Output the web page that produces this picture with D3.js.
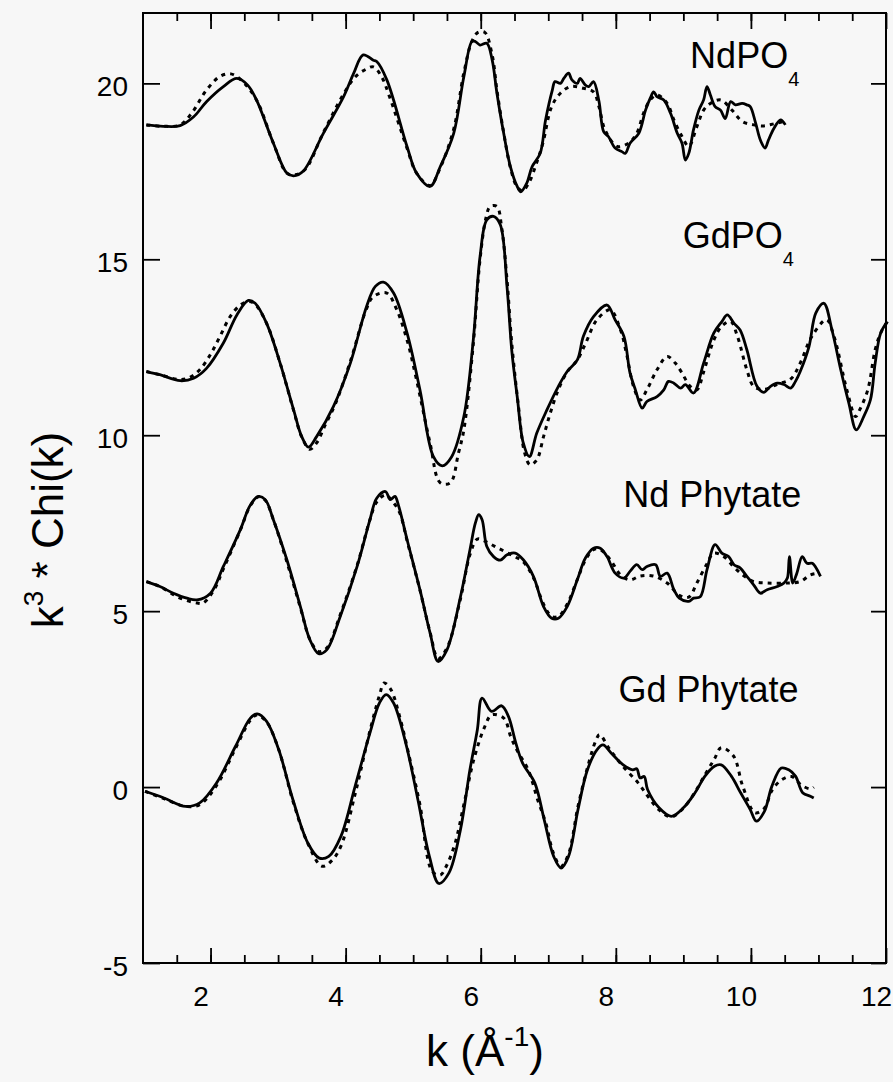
<!DOCTYPE html>
<html>
<head>
  <meta charset="utf-8">
  <script src="https://d3js.org/d3.v7.min.js"></script>
  <style>
  body {
    margin: 0;
    background: #f7f7f7;
  }
  svg {
    display: block;
    font-family: "Liberation Sans", Arial, Helvetica, sans-serif;
  }
  .tick line {
    stroke: #000;
    stroke-width: 1.8px;
  }
  .tick text {
    fill: #000;
    font-size: 28px;
  }
  .exp {
    fill: none;
    stroke: #000;
    stroke-width: 2.8px;
    stroke-linejoin: round;
  }
  .fit {
    fill: none;
    stroke: #000;
    stroke-width: 3px;
    stroke-dasharray: 4,5;
  }
  .label {
    font-size: 36px;
    fill: #000;
  }
</style>
</head>
<body>
<script>

  // k (1/A) , k^3*chi(k) with vertical offsets as plotted
  var ndpo4Exp = [[1.05,18.82],[1.30,18.78],[1.55,18.80],[1.75,19.05],[1.94,19.48],[2.19,19.91],[2.39,20.14],[2.55,19.95],[2.68,19.53],[2.93,18.30],[3.13,17.45],[3.23,17.37],[3.37,17.5],[3.67,18.58],[3.97,19.62],[4.12,20.29],[4.26,20.81],[4.41,20.66],[4.46,20.62],[4.61,20.10],[4.91,18.20],[5.05,17.45],[5.25,17.07],[5.40,17.63],[5.60,18.58],[5.75,20.19],[5.87,21.19],[5.92,21.19],[5.99,21.09],[6.09,21.14],[6.17,20.66],[6.24,19.72],[6.34,18.58],[6.44,17.63],[6.54,17.07],[6.59,16.92],[6.68,17.16],[6.76,17.63],[6.88,18.01],[6.96,18.96],[7.06,19.81],[7.10,20.05],[7.18,20.0],[7.23,20.14],[7.30,20.29],[7.35,20.10],[7.43,20.0],[7.47,20.14],[7.55,19.95],[7.60,19.91],[7.67,20.05],[7.75,19.5],[7.82,18.63],[7.89,18.49],[7.99,18.16],[8.09,18.06],[8.14,18.01],[8.21,18.30],[8.34,18.58],[8.44,19.24],[8.51,19.58],[8.56,19.76],[8.61,19.62],[8.71,19.53],[8.81,19.15],[8.91,18.58],[8.98,18.30],[9.03,17.82],[9.08,18.01],[9.15,18.68],[9.23,19.24],[9.30,19.53],[9.35,19.91],[9.40,19.67],[9.47,19.34],[9.55,19.24],[9.62,19.0],[9.70,19.48],[9.77,19.39],[9.87,19.43],[9.94,19.39],[9.99,19.34],[10.07,18.87],[10.14,18.39],[10.21,18.16],[10.26,18.39],[10.34,18.72],[10.44,18.96],[10.51,18.82]];
  var ndpo4Fit = [[1.05,18.82],[1.30,18.78],[1.55,18.82],[1.72,19.15],[1.94,19.81],[2.14,20.20],[2.30,20.27],[2.45,20.1],[2.68,19.53],[2.93,18.30],[3.13,17.45],[3.25,17.4],[3.40,17.55],[3.67,18.6],[3.97,19.7],[4.15,20.2],[4.30,20.4],[4.41,20.47],[4.53,20.2],[4.65,19.62],[4.91,18.15],[5.05,17.45],[5.25,17.1],[5.40,17.6],[5.60,18.7],[5.75,20.3],[5.87,21.2],[5.96,21.45],[6.06,21.45],[6.17,20.8],[6.24,19.8],[6.34,18.6],[6.44,17.6],[6.54,17.05],[6.62,16.95],[6.72,17.2],[6.82,17.7],[6.92,18.3],[7.05,19.34],[7.18,19.72],[7.33,19.91],[7.52,19.86],[7.67,19.76],[7.75,19.34],[7.84,18.68],[8.02,18.21],[8.19,18.30],[8.31,18.58],[8.41,19.15],[8.51,19.53],[8.61,19.67],[8.76,19.43],[8.86,18.96],[8.98,18.49],[9.08,18.21],[9.20,18.77],[9.30,19.24],[9.40,19.43],[9.55,19.53],[9.72,19.24],[9.87,18.92],[10.04,18.82],[10.19,18.79],[10.34,18.85],[10.49,18.92]];

  var gdpo4Exp = [[1.05,11.81],[1.25,11.72],[1.55,11.55],[1.75,11.62],[1.94,11.9],[2.19,12.62],[2.39,13.42],[2.56,13.83],[2.66,13.75],[2.83,13.18],[3.03,12.05],[3.23,10.72],[3.35,9.96],[3.45,9.66],[3.57,9.96],[3.82,10.82],[4.07,12.05],[4.31,13.66],[4.44,14.23],[4.56,14.35],[4.71,14.04],[4.91,12.90],[5.10,11.29],[5.30,9.39],[5.43,9.13],[5.57,9.39],[5.75,10.53],[5.89,12.71],[5.99,15.08],[6.09,16.12],[6.19,16.22],[6.29,15.98],[6.39,14.2],[6.46,12.4],[6.54,11.1],[6.63,9.78],[6.72,9.39],[6.83,10.06],[6.98,10.72],[7.15,11.39],[7.28,11.81],[7.43,12.14],[7.52,12.81],[7.67,13.37],[7.87,13.70],[7.99,13.28],[8.12,12.81],[8.21,11.77],[8.29,11.29],[8.39,10.77],[8.46,10.96],[8.61,11.10],[8.71,11.29],[8.78,11.53],[8.86,11.48],[8.96,11.34],[9.03,11.44],[9.15,11.2],[9.30,12.05],[9.45,12.90],[9.57,13.23],[9.65,13.42],[9.75,13.18],[9.84,12.99],[9.94,12.43],[10.09,11.39],[10.19,11.22],[10.29,11.39],[10.39,11.48],[10.49,11.44],[10.59,11.34],[10.66,11.53],[10.73,11.81],[10.86,12.52],[10.96,13.47],[11.08,13.75],[11.20,12.99],[11.33,11.86],[11.45,10.91],[11.56,10.15],[11.67,10.53],[11.77,11.01],[11.84,12.05],[11.92,12.90],[12.02,13.23]];
  var gdpo4Fit = [[1.05,11.81],[1.25,11.72],[1.55,11.58],[1.70,11.65],[1.84,11.86],[2.00,12.3],[2.14,12.81],[2.29,13.37],[2.44,13.70],[2.56,13.8],[2.66,13.72],[2.83,13.18],[3.03,12.05],[3.23,10.7],[3.35,9.95],[3.47,9.6],[3.57,9.78],[3.70,10.3],[3.85,10.9],[4.07,12.1],[4.31,13.6],[4.41,13.94],[4.61,14.04],[4.75,13.6],[4.91,12.7],[5.05,11.57],[5.25,9.78],[5.40,8.65],[5.55,8.65],[5.67,9.49],[5.75,10.15],[5.89,12.6],[5.99,15.0],[6.08,16.2],[6.14,16.5],[6.24,16.5],[6.31,15.9],[6.39,14.4],[6.46,12.6],[6.56,10.8],[6.65,9.5],[6.73,9.16],[6.83,9.30],[6.93,9.96],[7.03,10.63],[7.15,11.3],[7.28,11.8],[7.43,12.14],[7.55,12.6],[7.72,13.28],[7.92,13.56],[8.07,12.99],[8.16,12.3],[8.26,11.4],[8.36,11.0],[8.46,11.29],[8.61,11.86],[8.76,12.24],[8.88,12.05],[8.98,11.77],[9.10,11.39],[9.20,11.29],[9.30,11.8],[9.45,12.7],[9.57,13.1],[9.70,13.23],[9.80,12.81],[9.94,11.86],[10.04,11.39],[10.19,11.3],[10.39,11.45],[10.59,11.6],[10.73,12.05],[10.90,12.8],[11.12,13.28],[11.23,12.81],[11.42,11.29],[11.55,10.53],[11.61,10.72],[11.73,11.29],[11.84,12.43],[11.92,12.90],[12.02,13.23]];

  var ndPhyExp = [[1.05,5.84],[1.25,5.70],[1.45,5.51],[1.65,5.37],[1.80,5.32],[2.0,5.51],[2.19,6.27],[2.44,7.31],[2.59,8.02],[2.71,8.26],[2.81,8.17],[2.93,7.60],[3.13,6.46],[3.33,5.13],[3.47,4.19],[3.60,3.79],[3.72,3.90],[3.92,4.85],[4.17,6.27],[4.36,7.60],[4.46,8.21],[4.59,8.40],[4.66,8.17],[4.73,8.26],[4.78,8.02],[4.91,7.03],[5.10,5.61],[5.25,4.38],[5.37,3.57],[5.50,3.90],[5.70,5.41],[5.84,6.74],[5.92,7.50],[5.97,7.74],[6.02,7.60],[6.09,6.84],[6.19,6.55],[6.29,6.45],[6.39,6.60],[6.51,6.65],[6.63,6.46],[6.78,5.99],[6.93,5.13],[7.05,4.80],[7.15,4.80],[7.28,5.13],[7.43,5.89],[7.55,6.51],[7.67,6.79],[7.77,6.79],[7.87,6.55],[7.99,6.08],[8.12,5.94],[8.21,6.13],[8.31,6.32],[8.39,6.18],[8.46,6.27],[8.59,6.32],[8.66,5.99],[8.76,6.08],[8.86,5.61],[8.94,5.37],[9.08,5.28],[9.15,5.37],[9.25,5.41],[9.35,6.18],[9.47,6.89],[9.57,6.65],[9.67,6.55],[9.75,6.32],[9.84,6.23],[9.94,5.99],[10.04,5.75],[10.14,5.51],[10.24,5.61],[10.39,5.70],[10.49,5.80],[10.54,5.94],[10.57,6.55],[10.62,5.80],[10.68,6.08],[10.76,6.55],[10.83,6.36],[10.91,6.36],[11.03,5.99]];
  var ndPhyFit = [[1.05,5.84],[1.25,5.70],[1.55,5.37],[1.80,5.23],[1.89,5.23],[2.05,5.6],[2.19,6.2],[2.44,7.3],[2.59,8.0],[2.71,8.25],[2.81,8.15],[2.93,7.6],[3.13,6.4],[3.33,5.1],[3.47,4.2],[3.60,3.85],[3.72,3.95],[3.92,4.9],[4.17,6.3],[4.36,7.6],[4.46,8.1],[4.59,8.3],[4.70,8.1],[4.80,7.8],[4.91,7.0],[5.10,5.6],[5.25,4.4],[5.37,3.65],[5.50,3.95],[5.70,5.35],[5.84,6.6],[5.95,7.05],[6.05,7.0],[6.20,6.85],[6.35,6.7],[6.50,6.55],[6.63,6.4],[6.78,5.95],[6.93,5.2],[7.05,4.85],[7.15,4.85],[7.28,5.2],[7.43,5.9],[7.55,6.45],[7.67,6.75],[7.77,6.75],[7.92,6.46],[8.07,6.03],[8.21,5.89],[8.36,6.0],[8.55,6.0],[8.76,5.80],[8.94,5.45],[9.08,5.4],[9.20,5.80],[9.35,6.35],[9.45,6.65],[9.60,6.55],[9.75,6.25],[9.90,6.0],[10.04,5.84],[10.24,5.80],[10.54,5.80],[10.73,5.84],[10.88,6.03],[11.0,6.08]];

  var gdPhyExp = [[1.03,-0.12],[1.31,-0.31],[1.63,-0.55],[1.84,-0.45],[2.09,0.12],[2.37,1.16],[2.59,1.96],[2.69,2.08],[2.83,1.87],[3.01,1.06],[3.22,-0.36],[3.44,-1.59],[3.61,-2.02],[3.75,-1.97],[3.93,-1.40],[4.14,0.02],[4.36,1.54],[4.50,2.39],[4.60,2.63],[4.71,2.39],[4.89,1.25],[5.07,-0.36],[5.24,-1.97],[5.38,-2.74],[5.53,-2.44],[5.70,-1.21],[5.84,0.49],[5.95,1.63],[6.02,2.53],[6.16,2.15],[6.31,2.31],[6.41,2.01],[6.52,1.25],[6.62,0.68],[6.80,0.12],[6.94,-0.93],[7.08,-1.97],[7.19,-2.30],[7.30,-1.97],[7.44,-0.64],[7.58,0.49],[7.72,1.06],[7.81,1.20],[7.93,0.97],[8.11,0.63],[8.25,0.49],[8.31,0.52],[8.36,0.26],[8.42,0.30],[8.47,-0.07],[8.64,-0.59],[8.82,-0.83],[9.0,-0.59],[9.17,-0.17],[9.32,0.31],[9.46,0.59],[9.56,0.63],[9.71,0.31],[9.85,-0.17],[9.99,-0.64],[10.08,-0.97],[10.20,-0.69],[10.31,0.02],[10.45,0.54],[10.56,0.49],[10.66,0.31],[10.77,-0.17],[10.88,-0.26],[10.93,-0.31]];
  var gdPhyFit = [[1.03,-0.12],[1.31,-0.33],[1.63,-0.55],[1.84,-0.5],[2.09,0.05],[2.37,1.1],[2.59,1.9],[2.69,2.05],[2.83,1.85],[3.01,1.06],[3.22,-0.4],[3.44,-1.6],[3.65,-2.25],[3.79,-2.1],[3.93,-1.68],[4.14,-0.2],[4.36,1.6],[4.50,2.6],[4.57,2.96],[4.67,2.77],[4.80,2.0],[4.95,0.8],[5.10,-0.5],[5.28,-2.39],[5.40,-2.5],[5.49,-2.25],[5.62,-1.6],[5.75,-0.5],[5.90,0.8],[6.06,1.72],[6.16,2.05],[6.34,1.96],[6.45,1.40],[6.55,1.0],[6.70,0.5],[6.85,-0.4],[6.96,-1.0],[7.08,-1.9],[7.19,-2.25],[7.30,-1.9],[7.44,-0.55],[7.58,0.55],[7.70,1.3],[7.76,1.49],[7.90,1.1],[8.10,0.6],[8.33,0.12],[8.47,-0.25],[8.64,-0.65],[8.82,-0.85],[9.0,-0.6],[9.17,-0.15],[9.32,0.35],[9.46,0.8],[9.56,1.12],[9.74,0.89],[9.88,0.02],[10.06,-0.73],[10.20,-0.6],[10.31,-0.1],[10.45,0.2],[10.60,0.3],[10.75,0.05],[10.88,-0.05],[10.93,0.0]];

  var xMajor = [2, 4, 6, 8, 10, 12];
  var xMinor = d3.range(1.5, 12, 0.5);
  var yTicks = [-5, 0, 5, 10, 15, 20];

  var labels = [
    {name: "NdPO", sub: "4", k: 9.10, v: 20.44},
    {name: "GdPO", sub: "4", k: 8.99, v: 15.32},
    {name: "Nd Phytate", sub: "", k: 8.11, v: 7.97},
    {name: "Gd Phytate", sub: "", k: 8.04, v: 2.43}
  ];

  var W = 893, H = 1082;
  var margin = {top: 13, right: 7, bottom: 119, left: 143};

  var svg = d3.select("body").append("svg")
    .attr("width", W)
    .attr("height", H);

  var x = d3.scaleLinear().domain([1, 12]).range([margin.left, W - margin.right]);
  var y = d3.scaleLinear().domain([-5, 22]).range([H - margin.bottom, margin.top]);

  var plain = d => String(d);

  // ticks (inward, mirrored on all four sides)
  svg.append("g")
    .attr("transform", "translate(0," + y(-5) + ")")
    .call(d3.axisBottom(x).tickValues(xMinor).tickSize(-8).tickFormat(""))
    .call(g => g.select(".domain").remove());

  svg.append("g")
    .attr("transform", "translate(0," + y(-5) + ")")
    .call(d3.axisBottom(x).tickValues(xMajor).tickSize(-15).tickPadding(23).tickFormat(plain))
    .call(g => g.select(".domain").remove())
    .selectAll("text")
      .attr("dx", "-10");

  svg.append("g")
    .attr("transform", "translate(0," + y(22) + ")")
    .call(d3.axisTop(x).tickValues(xMinor).tickSize(-8).tickFormat(""))
    .call(g => g.select(".domain").remove());

  svg.append("g")
    .attr("transform", "translate(0," + y(22) + ")")
    .call(d3.axisTop(x).tickValues(xMajor).tickSize(-16).tickFormat(""))
    .call(g => g.select(".domain").remove());

  svg.append("g")
    .attr("transform", "translate(" + x(1) + ",0)")
    .call(d3.axisLeft(y).tickValues(yTicks).tickSize(-17).tickPadding(15).tickFormat(plain))
    .call(g => g.select(".domain").remove())
    .selectAll("text")
      .attr("dy", "0.45em");

  svg.append("g")
    .attr("transform", "translate(" + x(12) + ",0)")
    .call(d3.axisRight(y).tickValues(yTicks).tickSize(-15).tickFormat(""))
    .call(g => g.select(".domain").remove());

  svg.append("rect")
    .attr("x", x(1))
    .attr("y", y(22))
    .attr("width", x(12) - x(1))
    .attr("height", y(-5) - y(22))
    .attr("fill", "none")
    .attr("stroke", "#000")
    .attr("stroke-width", 2);

  var line = d3.line()
    .x(d => x(d[0]))
    .y(d => y(d[1]))
    .curve(d3.curveCatmullRom.alpha(0.5));

  [ndpo4Fit, gdpo4Fit, ndPhyFit, gdPhyFit].forEach(s => {
    svg.append("path").attr("class", "fit").attr("d", line(s));
  });
  [ndpo4Exp, gdpo4Exp, ndPhyExp, gdPhyExp].forEach(s => {
    svg.append("path").attr("class", "exp").attr("d", line(s));
  });

  labels.forEach(l => {
    var t = svg.append("text")
      .attr("class", "label")
      .attr("x", x(l.k))
      .attr("y", y(l.v))
      .text(l.name);
    if (l.sub) {
      t.append("tspan")
        .attr("font-size", "20px")
        .attr("dy", 18)
        .text(l.sub);
    }
  });

  // axis titles
  var xt = svg.append("text")
    .attr("x", 485)
    .attr("y", 1066)
    .attr("text-anchor", "middle")
    .attr("font-size", "44px");
  xt.append("tspan").text("k (Å");
  xt.append("tspan").attr("font-size", "28px").attr("dy", -20).text("-1");
  xt.append("tspan").attr("dy", 20).text(")");

  var yt = svg.append("text")
    .attr("transform", "translate(63,530) rotate(-90)")
    .attr("text-anchor", "middle")
    .attr("font-size", "44px");
  yt.append("tspan").text("k");
  yt.append("tspan").attr("font-size", "28px").attr("dy", -20).text("3");
  yt.append("tspan").attr("dy", 20).text(" * Chi(k)");

</script>
</body>
</html>
